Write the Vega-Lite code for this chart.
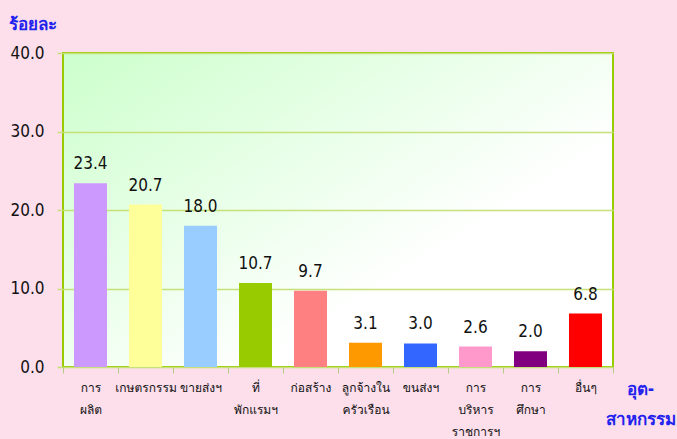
{
  "$schema": "https://vega.github.io/schema/vega-lite/v6.json",
  "width": 550,
  "height": 314,
  "autosize": {"type": "none"},
  "padding": {"left": 63, "top": 53, "right": 64, "bottom": 72},
  "background": "#FDDEEB",
  "view": {
    "fill": {"gradient": "linear", "x1": 0, "y1": 0, "x2": 1, "y2": 0.9, "stops": [{"offset": 0, "color": "#CCFFCC"}, {"offset": 0.7, "color": "#FFFFFF"}]},
    "stroke": "#99CC00",
    "strokeWidth": 2
  },
  "config": {
    "font": "DejaVu Sans Condensed, Liberation Sans, sans-serif"
  },
  "data": {
    "values": [
      {"sector": "การ\nผลิต", "pct": 23.4},
      {"sector": "เกษตรกรรม", "pct": 20.7},
      {"sector": "ขายส่งฯ", "pct": 18.0},
      {"sector": "ที่\nพักแรมฯ", "pct": 10.7},
      {"sector": "ก่อสร้าง", "pct": 9.7},
      {"sector": "ลูกจ้างใน\nครัวเรือน", "pct": 3.1},
      {"sector": "ขนส่งฯ", "pct": 3.0},
      {"sector": "การ\nบริหาร\nราชการฯ", "pct": 2.6},
      {"sector": "การ\nศึกษา", "pct": 2.0},
      {"sector": "อื่นๆ", "pct": 6.8}
    ]
  },
  "encoding": {
    "x": {
      "field": "sector",
      "type": "nominal",
      "sort": null,
      "scale": {"paddingInner": 0, "paddingOuter": 0},
      "axis": {
        "title": ["อุต-", "สาหกรรม"],
        "titleColor": "#2222EE",
        "titleFontSize": 17,
        "titleFontWeight": "bold",
        "titleLineHeight": 30,
        "titleAlign": "center",
        "titleAnchor": null,
        "titleAngle": 0,
        "titleBaseline": "alphabetic",
        "titleX": 577,
        "titleY": 27,
        "labelAngle": 0,
        "labelExpr": "datum.value ? split(datum.value, '\\n') : ''",
        "labelFont": "Tahoma, Loma, Garuda, DejaVu Sans Condensed, sans-serif",
        "labelFontSize": 12,
        "labelColor": "#111111",
        "labelLineHeight": 22,
        "labelPadding": 9,
        "labelBaseline": "top",
        "tickBand": "extent",
        "tickSize": 6,
        "tickColor": "#B5CC88",
        "domain": false
      }
    },
    "y": {
      "field": "pct",
      "type": "quantitative",
      "scale": {"domain": [0, 40], "nice": false},
      "axis": {
        "values": [0, 10, 20, 30, 40],
        "format": ".1f",
        "title": "ร้อยละ",
        "titleColor": "#2222EE",
        "titleFontSize": 17,
        "titleFontWeight": "bold",
        "titleAngle": 0,
        "titleAlign": "center",
        "titleAnchor": null,
        "titleBaseline": "alphabetic",
        "titleX": -31,
        "titleY": -24,
        "labelFontSize": 17,
        "labelColor": "#111111",
        "labelPadding": 13,
        "tickSize": 6,
        "tickColor": "#C6E07A",
        "tickWidth": 1.5,
        "gridColor": "#C6E07A",
        "gridWidth": 1.5,
        "domain": false
      }
    }
  },
  "layer": [
    {
      "mark": {"type": "bar", "width": {"band": 0.6}},
      "encoding": {
        "color": {
          "field": "sector",
          "type": "nominal",
          "sort": null,
          "legend": null,
          "scale": {"range": ["#CC99FF", "#FFFF99", "#99CCFF", "#99CC00", "#FF8080", "#FF9900", "#3366FF", "#FF99CC", "#800080", "#FF0000"]}
        }
      }
    },
    {
      "mark": {"type": "text", "dy": -14, "baseline": "alphabetic", "fontSize": 17, "color": "#111111"},
      "encoding": {
        "text": {"field": "pct", "type": "quantitative", "format": ".1f"}
      }
    }
  ]
}
